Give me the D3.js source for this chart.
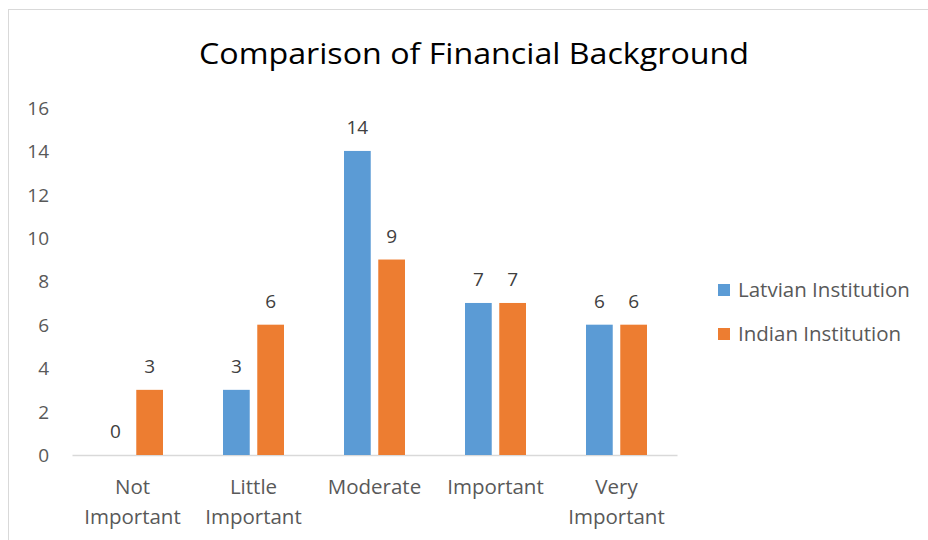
<!DOCTYPE html>
<html><head><meta charset="utf-8">
<script src="https://cdn.jsdelivr.net/npm/d3@7"></script>
<style>body{margin:0;background:#fff}svg{display:block}</style>
</head><body>
<script>
const categories = [["Not","Important"],["Little","Important"],["Moderate"],["Important"],["Very","Important"]];
const seriesNames = ["Latvian Institution","Indian Institution"];
const latvian = [0,3,14,7,6];
const indian = [3,6,9,7,6];
const yTicks = [0,2,4,6,8,10,12,14,16];
const colors = ["#5B9BD5","#ED7D31"];
const font = "'Open Sans', 'Noto Sans', sans-serif";

const W=928,H=540;
const svg = d3.select("body").append("svg").attr("width",W).attr("height",H);
svg.append("rect").attr("x",8.5).attr("y",9.5).attr("width",W+10).attr("height",H+10)
  .attr("fill","#fff").attr("stroke","#d9d9d9");

svg.append("text").attr("x",474).attr("y",64).attr("text-anchor","middle")
  .attr("font-family",font).attr("font-size",29).attr("fill","#000")
  .attr("textLength",550).attr("lengthAdjust","spacingAndGlyphs")
  .text("Comparison of Financial Background");

const x0 = d3.scaleBand().domain(d3.range(categories.length)).range([72,677]).padding(0);
const y = d3.scaleLinear().domain([0,16]).range([455,107.5]);
const x1 = d3.scaleBand().domain([0,1]).range([0,61]).paddingInner(0.22);

// y axis labels
const yAxis = d3.axisLeft(y).tickValues(yTicks).tickSize(0).tickPadding(0);
const ga = svg.append("g").attr("transform","translate(49,0)").call(yAxis);
ga.select(".domain").remove();
ga.selectAll("text").attr("font-family",font).attr("font-size",19).attr("fill","#595959").attr("dy","0.35em");

// x axis line
const xAxis = d3.axisBottom(x0).tickSize(0).tickFormat("");
const gx = svg.append("g").attr("transform","translate(0,455)").call(xAxis);
gx.select(".domain").attr("stroke","#d9d9d9").attr("stroke-width",1.5);

const data = categories.map((c,i)=>[latvian[i],indian[i]]);
const groups = svg.append("g").selectAll("g").data(data).join("g")
  .attr("transform",(d,i)=>`translate(${x0(i)+x0.bandwidth()/2-30.5},0)`);
groups.selectAll("rect").data(d=>d).join("rect")
  .attr("x",(d,j)=>x1(j)).attr("width",x1.bandwidth())
  .attr("y",d=>y(d)).attr("height",d=>y(0)-y(d)).attr("fill",(d,j)=>colors[j]);
groups.selectAll("text").data(d=>d).join("text")
  .attr("x",(d,j)=>x1(j)+x1.bandwidth()/2).attr("y",d=>y(d)-17)
  .attr("text-anchor","middle").attr("font-family",font).attr("font-size",19).attr("fill","#404040")
  .text(d=>d);

// category labels
const cl = svg.append("g").selectAll("text").data(categories).join("text")
  .attr("x",(d,i)=>x0(i)+x0.bandwidth()/2).attr("y",494)
  .attr("text-anchor","middle").attr("font-family",font).attr("font-size",20.5).attr("fill","#595959");
cl.selectAll("tspan").data(d=>d).join("tspan")
  .attr("x",function(){return this.parentNode.getAttribute("x");})
  .attr("dy",(d,k)=>k===0?0:30).text(d=>d);

// legend
const lg = svg.append("g").selectAll("g").data(seriesNames).join("g")
  .attr("transform",(d,i)=>`translate(718,${290+i*44})`);
lg.append("rect").attr("x",0).attr("y",-6).attr("width",12).attr("height",12).attr("fill",(d,i)=>colors[i]);
lg.append("text").attr("x",20).attr("y",0).attr("dy","0.35em").attr("font-family",font)
  .attr("font-size",20.5).attr("fill","#595959").text(d=>d);
</script>
</body></html>
